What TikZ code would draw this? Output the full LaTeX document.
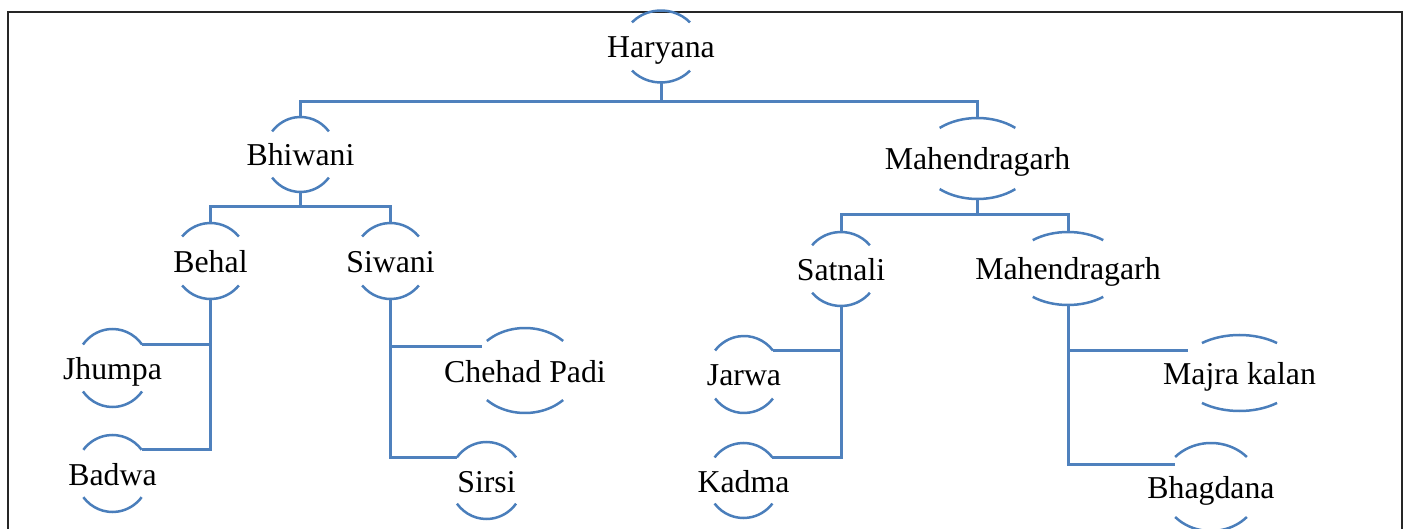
\documentclass[tikz,border=0pt]{standalone}
\usepackage{fontspec}
\setmainfont{Liberation Serif}
\usetikzlibrary{calc}
\definecolor{lineblue}{RGB}{79,129,189}
\definecolor{arcblue}{RGB}{74,126,187}
\tikzset{
  lbl/.style={inner sep=0pt, text height=23pt, text depth=0pt, font=\fontsize{31.8}{36}\selectfont, text=black},
  conn/.style={draw=lineblue, line width=3pt},
  arcst/.style={draw=arcblue, line width=2.5pt},
  framest/.style={draw=black!85, line width=1.4pt}
}
% name, x, y, xradius, yradius, angle, text
\newcommand\orgnode[7]{%
  \pgfmathsetmacro\angA{180-#6}%
  \pgfmathsetmacro\angB{180+#6}%
  \pgfmathsetmacro\angC{360-#6}%
  \node[lbl] (#1) at (#2,-#3) {#7};
  \draw[arcst] (#1.center) ++(#6:#4pt and #5pt) coordinate (#1-tr)
     arc[start angle=#6, end angle=\angA, x radius=#4pt, y radius=#5pt] coordinate (#1-tl);
  \draw[arcst] (#1.center) ++(\angB:#4pt and #5pt) coordinate (#1-bl)
     arc[start angle=\angB, end angle=\angC, x radius=#4pt, y radius=#5pt] coordinate (#1-br);
  \coordinate (#1-n) at ($(#1.center)+(0,#5pt)$);
  \coordinate (#1-s) at ($(#1.center)+(0,-#5pt)$);
}
\begin{document}
\begin{tikzpicture}[x=1pt,y=1pt]
\useasboundingbox (0,0) rectangle (1409,-529);
\draw[framest] (8,-529) -- (8,-12) -- (1402,-12) -- (1402,-529);

\orgnode{har}{661}{46.5}{39}{36}{42}{Haryana}
\orgnode{bhi}{300.5}{154.5}{36}{37.5}{38}{Bhiwani}
\orgnode{mah}{977.5}{158.5}{57.7}{40.5}{49}{Mahendragarh}
\orgnode{beh}{210.5}{261}{37}{38}{40}{Behal}
\orgnode{siw}{390.5}{261}{37}{38}{40}{Siwani}
\orgnode{jhu}{112.5}{368}{37}{39}{37}{Jhumpa}
\orgnode{bad}{112.5}{473.5}{37}{38.5}{38}{Badwa}
\orgnode{chp}{525}{370.5}{53}{42.5}{44}{Chehad Padi}
\orgnode{sir}{486.5}{480.5}{37}{38.5}{37}{Sirsi}
\orgnode{sat}{841}{269}{37.7}{37}{40}{Satnali}
\orgnode{jar}{744}{374.5}{37}{38.5}{38.6}{Jarwa}
\orgnode{kad}{743.5}{480.5}{36.7}{37.5}{38}{Kadma}
\orgnode{mh2}{1068}{268.5}{56}{36.5}{51}{Mahendragarh}
\orgnode{maj}{1239.5}{373}{61}{38}{52}{Majra kalan}
\orgnode{bhg}{1211}{487}{49}{44}{43}{Bhagdana}

% level 0 -> 1
\coordinate (barA) at (0,-102);
\draw[conn] (har-s) -- (har-s |- barA);
\draw[conn] (bhi-n) |- (barA -| mah-n) -- (mah-n);
% Bhiwani
\coordinate (barB) at (0,-207);
\draw[conn] (bhi-s) -- (bhi-s |- barB);
\draw[conn] (beh-n) |- (barB -| siw-n) -- (siw-n);
\draw[conn] (beh-s) |- (bad-tr);
\draw[conn] (jhu-tr) -- (jhu-tr -| beh-s);
\draw[conn] (siw-s) |- (sir-tl);
\coordinate (chp-c) at ($(chp-tl)+(-5pt,-6pt)$);
\draw[conn] (chp-c) -- (chp-c -| siw-s);
% Mahendragarh
\coordinate (barC) at (0,-215);
\draw[conn] (mah-s) -- (mah-s |- barC);
\draw[conn] (sat-n) |- (barC -| mh2-n) -- (mh2-n);
\draw[conn] (sat-s) |- (kad-tr);
\draw[conn] (jar-tr) -- (jar-tr -| sat-s);
\coordinate (maj-c) at ($(maj-tl)+(-14pt,-7pt)$);
\coordinate (bhg-c) at ($(bhg-tl)+(0pt,-8pt)$);
\draw[conn] (mh2-s) |- (bhg-c);
\draw[conn] (maj-c) -- (maj-c -| mh2-s);
\end{tikzpicture}
\end{document}
